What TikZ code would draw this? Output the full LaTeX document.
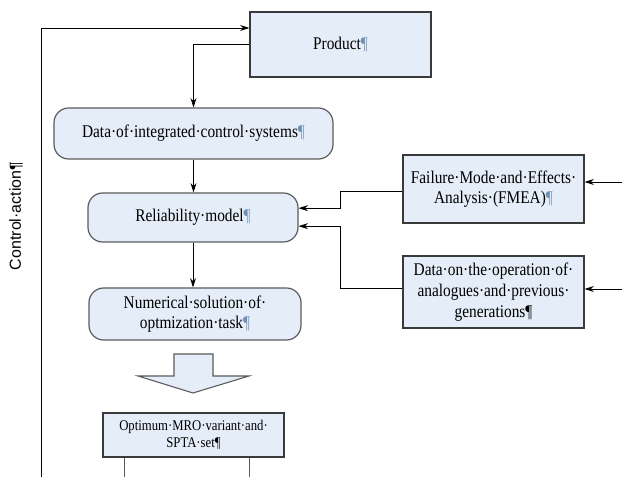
\documentclass[tikz,border=0pt]{standalone}
\usepackage{fontspec}
\setmainfont{Liberation Serif}[FakeStretch=0.86]
\setsansfont{Liberation Sans}
\usetikzlibrary{arrows.meta}
\definecolor{boxfill}{HTML}{E4EDF8}
\definecolor{boxline}{HTML}{3A3A3A}
\definecolor{rndline}{HTML}{5A5A5A}
\definecolor{pilc}{HTML}{6F8FB3}
\newcommand{\pil}{\textcolor{pilc}{¶}}
\tikzset{
  sqbox/.style={draw=boxline, fill=boxfill, line width=0.9pt, align=center, inner sep=0pt, font=\fontsize{13.4}{15.5}\selectfont},
  rndbox/.style={sqbox, draw=rndline, rounded corners=11pt},
  arr/.style={-{Stealth[length=7pt,width=4.5pt]}, line width=0.7pt},
}

\begin{document}
\begin{tikzpicture}[x=0.75pt,y=-0.75pt]
\useasboundingbox (0,0) rectangle (622,477);

% 绘制方框
\node[sqbox, minimum width=135.75pt, minimum height=48.75pt] (prod) at (340.5,44.5) {Product\pil};
\node[rndbox, minimum width=209.25pt, minimum height=38.25pt] (data) at (193.5,133.5) {Data·of·integrated·control·systems\pil};
\node[rndbox, minimum width=157.5pt, minimum height=36.75pt] (rel) at (193,217.5) {Reliability·model\pil};
\node[rndbox, minimum width=159pt, minimum height=39pt] (num) at (195,314) {Numerical·solution·of·\\optmization·task\pil};
\node[sqbox, minimum width=135.75pt, minimum height=51pt] (fmea) at (493.5,189) {Failure·Mode·and·Effects·\\Analysis·(FMEA)\pil};
\node[sqbox, minimum width=135.75pt, minimum height=54pt] (anlg) at (493.5,292) {Data·on·the·operation·of·\\analogues·and·previous·\\generations¶};
\node[sqbox, minimum width=135.75pt, minimum height=33pt, font=\fontsize{11.1}{12.75}\selectfont] (opt) at (193.5,435) {Optimum·MRO·variant·and·\\SPTA·set¶};
\node[rotate=90, font=\sffamily\fontsize{12}{14}\selectfont] (ctl) at (16,216) {Control·action¶};

% 外部输入与反馈
\coordinate (in1) at (622,182);
\coordinate (in2) at (622,289);
\coordinate (fbot) at (41,477);
\coordinate (ftop) at (41,28);
\coordinate (o1) at (124,477);
\coordinate (o2) at (249,477);

\draw[arr] (fbot) -- (ftop) -- (ftop -| prod.west);
\draw[arr] (prod.west) -| (data.north);
\draw[arr] (data.south) -- (data.south |- rel.north);
\draw[arr] (rel.south) -- (rel.south |- num.north);
\draw[arr] ([yshift=-2pt]fmea.west) -- ++(-62,0) |- ([yshift=7pt]rel.east);
\draw[arr] ([yshift=3pt]anlg.west) -- ++(-62,0) |- ([yshift=-6.5pt]rel.east);
\draw[arr] (in1) -- (in1 -| fmea.east);
\draw[arr] (in2) -- (in2 -| anlg.east);
\draw[line width=0.7pt, draw=rndline] (opt.south -| o1) -- (o1);
\draw[line width=0.7pt, draw=rndline] (opt.south -| o2) -- (o2);

% 粗箭头
\draw[draw=rndline, fill=boxfill, line width=0.8pt] (174,354) -- (213,354) -- (213,376) -- (249,376) -- (193,393) -- (138,376) -- (174,376) -- cycle;

\end{tikzpicture}
\end{document}
